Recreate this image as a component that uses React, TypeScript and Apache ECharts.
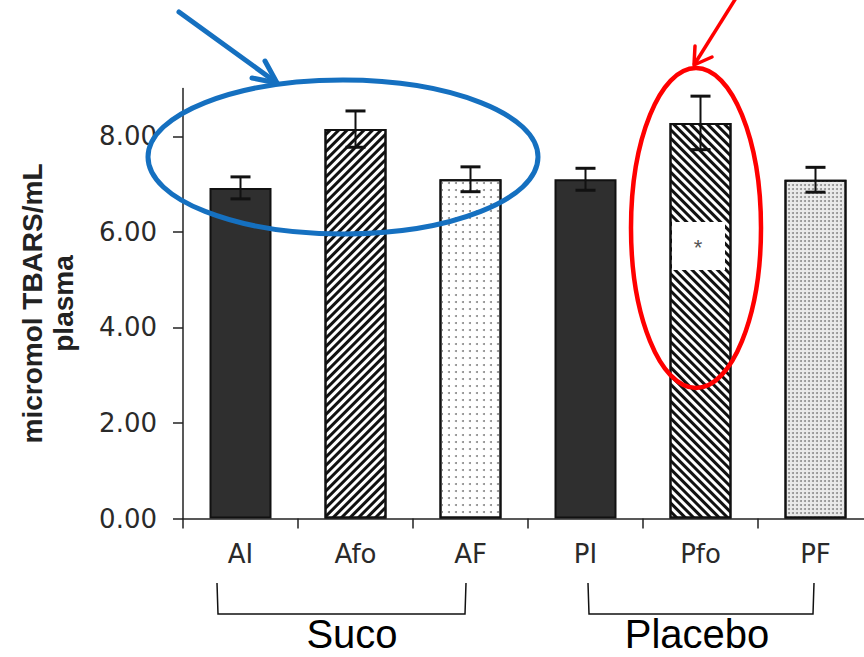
import React, { useEffect, useRef } from "react";
import * as echarts from "echarts";

const categories = ["AI", "Afo", "AF", "PI", "Pfo", "PF"];
const means = [6.92, 8.15, 7.1, 7.1, 8.28, 7.09];
const errors = [0.23, 0.38, 0.26, 0.23, 0.56, 0.26];
const yTicks = [0, 2, 4, 6, 8];
const groupNames = ["Suco", "Placebo"];

const darkFill = "#2f2f2f";

const barStyles = [
  { color: darkFill },
  {
    color: "#ffffff",
    decal: { symbol: "rect", symbolSize: 1, dashArrayX: [1, 0], dashArrayY: [3, 3], rotation: -Math.PI / 4, color: "#111" },
  },
  {
    color: "#ffffff",
    decal: { symbol: "circle", symbolSize: 1, dashArrayX: [2, 5], dashArrayY: [2, 5], color: "#8a8a8a" },
  },
  { color: darkFill },
  {
    color: "#ffffff",
    decal: { symbol: "rect", symbolSize: 1, dashArrayX: [1, 0], dashArrayY: [3, 3], rotation: Math.PI / 4, color: "#111" },
  },
  {
    color: "#eaeaea",
    decal: { symbol: "circle", symbolSize: 1, dashArrayX: [2, 2], dashArrayY: [2, 2], color: "#8f8f8f" },
  },
];

export default function App() {
  const ref = useRef<HTMLDivElement>(null);
  useEffect(() => {
    const chart = echarts.init(ref.current!, null, { renderer: "svg" });
    const barData = means.map((v, i) => ({
      value: v,
      itemStyle: { ...barStyles[i], borderColor: "#111", borderWidth: 2 },
    }));
    const errData = means.map((v, i) => [i, v - errors[i], v + errors[i]]);
    const option: any = {
      animation: false,
      backgroundColor: "#ffffff",
      grid: { left: 183, top: 88.5, width: 690, height: 430, outerBoundsMode: "none", containLabel: false },
      xAxis: {
        type: "category",
        data: categories,
        axisLine: { lineStyle: { color: "#222", width: 1.5 } },
        axisTick: { show: true, length: 10, lineStyle: { color: "#222", width: 1.5 } },
        axisLabel: { fontFamily: "DejaVu Sans", fontSize: 26, color: "#2a2a2a", margin: 22 },
      },
      yAxis: {
        type: "value",
        min: 0,
        max: 9,
        interval: 2,
        name: "micromol TBARS/mL\nplasma",
        nameLocation: "middle",
        nameRotate: 90,
        nameGap: 104,
        nameTextStyle: { fontFamily: "Liberation Sans", fontWeight: "bold", fontSize: 28, color: "#222", lineHeight: 31, align: "center" },
        splitLine: { show: false },
        axisLine: { show: true, lineStyle: { color: "#222", width: 1.5 } },
        axisTick: { show: true, length: 10, customValues: yTicks, lineStyle: { color: "#222", width: 1.5 } },
        axisLabel: {
          customValues: yTicks,
          fontFamily: "DejaVu Sans",
          fontSize: 26,
          color: "#2a2a2a",
          margin: 26,
          formatter: (v: number) => v.toFixed(2),
        },
      },
      series: [
        {
          type: "bar",
          data: barData,
          barWidth: 62,
          z: 2,
        },
        {
          type: "custom",
          z: 5,
          data: errData,
          renderItem: (params: any, api: any) => {
            const x = api.value(0);
            const lo = api.coord([x, api.value(1)]);
            const hi = api.coord([x, api.value(2)]);
            const hw = 10;
            const st = { stroke: "#111", lineWidth: 2 };
            const cap = { stroke: "#111", lineWidth: 3 };
            return {
              type: "group",
              children: [
                { type: "line", shape: { x1: hi[0], y1: hi[1], x2: lo[0], y2: lo[1] }, style: st },
                { type: "line", shape: { x1: hi[0] - hw, y1: hi[1], x2: hi[0] + hw, y2: hi[1] }, style: cap },
                { type: "line", shape: { x1: lo[0] - hw, y1: lo[1], x2: lo[0] + hw, y2: lo[1] }, style: cap },
              ],
            };
          },
        },
      ],
      graphic: [
        { type: "rect", z: 100, shape: { x: 672, y: 222, width: 53, height: 48 }, style: { fill: "#ffffff" } },
        { type: "text", z: 101, x: 698, y: 247, style: { text: "*", fontFamily: "Liberation Sans", fontSize: 22, fill: "#555", align: "center", verticalAlign: "middle" } },
        { type: "polyline", z: 100, shape: { points: [[217, 583], [218, 614], [465, 614], [466, 583]] }, style: { stroke: "#111", lineWidth: 1.5, fill: "none" } },
        { type: "polyline", z: 100, shape: { points: [[588, 583], [589, 614], [813, 614], [814, 583]] }, style: { stroke: "#111", lineWidth: 1.5, fill: "none" } },
        { type: "text", z: 100, x: 352, y: 634, style: { text: groupNames[0], fontFamily: "Liberation Sans", fontSize: 40, fill: "#000", align: "center", verticalAlign: "middle" } },
        { type: "text", z: 100, x: 697, y: 634, style: { text: groupNames[1], fontFamily: "Liberation Sans", fontSize: 40, fill: "#000", align: "center", verticalAlign: "middle" } },
        { type: "ellipse", z: 110, shape: { cx: 343, cy: 157, rx: 195, ry: 77 }, style: { fill: "none", stroke: "#1570C0", lineWidth: 5 } },
        { type: "polyline", z: 110, shape: { points: [[179, 12], [277, 83]] }, style: { stroke: "#1570C0", lineWidth: 5, lineCap: "round", fill: "none" } },
        { type: "polyline", z: 110, shape: { points: [[265, 61], [277, 83], [252, 78]] }, style: { stroke: "#1570C0", lineWidth: 5, lineCap: "round", lineJoin: "round", fill: "none" } },
        { type: "ellipse", z: 110, shape: { cx: 696, cy: 228, rx: 65, ry: 160 }, style: { fill: "none", stroke: "#ff0000", lineWidth: 4.5 } },
        { type: "polyline", z: 110, shape: { points: [[736, -2], [694, 65]] }, style: { stroke: "#ff0000", lineWidth: 3.5, fill: "none" } },
        { type: "polyline", z: 110, shape: { points: [[695, 46], [694, 65], [712, 57]] }, style: { stroke: "#ff0000", lineWidth: 3.5, lineCap: "round", lineJoin: "round", fill: "none" } },
      ],
    };
    chart.setOption(option);
    return () => chart.dispose();
  }, []);
  return <div ref={ref} style={{ position: "absolute", left: 0, top: 0, width: 864, height: 657 }} />;
}
